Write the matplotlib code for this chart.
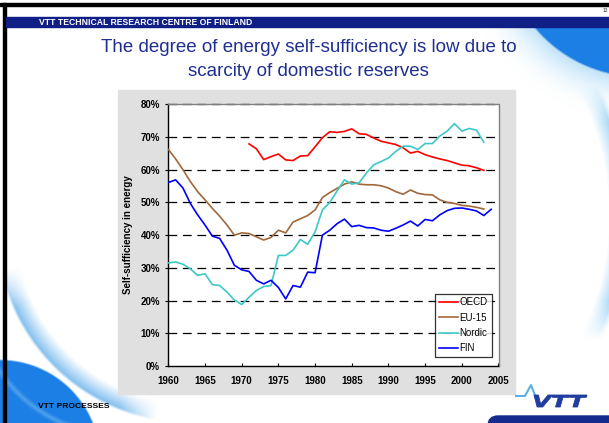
import numpy as np
import matplotlib
matplotlib.use('Agg')
import matplotlib.pyplot as plt
from matplotlib.patches import Rectangle, FancyBboxPatch, PathPatch
from matplotlib.textpath import TextPath
from matplotlib.font_manager import FontProperties
from matplotlib.transforms import Affine2D

plt.rcParams['font.family'] = ['Liberation Sans', 'DejaVu Sans']
plt.rcParams['lines.scale_dashes'] = False

# data (percent)
years_oecd = list(range(1971, 2004))
oecd = [67.9, 66.4, 63.1, 64.0, 64.8, 63.0, 62.8, 64.2, 64.3, 67.0,
        69.8, 71.6, 71.4, 71.7, 72.5, 71.0, 70.8, 69.7, 68.7, 68.2,
        67.7, 66.7, 65.1, 65.6, 64.6, 63.9, 63.3, 62.8, 62.1, 61.4,
        61.2, 60.6, 59.8]

years_eu = list(range(1960, 2004))
eu15 = [66.2, 63.3, 60.0, 56.4, 53.3, 50.8, 48.2, 45.8, 43.1, 40.0,
        40.7, 40.5, 39.5, 38.5, 39.3, 41.5, 40.7, 44.0, 45.0, 46.0,
        47.7, 51.5, 53.0, 54.3, 55.6, 56.3, 55.6, 55.4, 55.4, 55.1,
        54.4, 53.3, 52.5, 53.8, 52.8, 52.4, 52.3, 50.8, 50.0, 49.7,
        49.1, 48.9, 48.5, 48.0]

years_nordic = list(range(1960, 2004))
nordic = [31.5, 31.8, 31.1, 29.7, 27.7, 28.2, 24.9, 24.6, 22.6, 20.2,
          18.8, 21.0, 23.1, 24.3, 24.6, 33.8, 33.8, 35.4, 38.7, 37.2,
          41.0, 47.7, 50.0, 53.5, 56.9, 55.6, 56.0, 59.0, 61.5, 62.5,
          63.6, 65.6, 67.2, 67.2, 66.2, 68.0, 68.0, 70.3, 71.8, 74.1,
          71.8, 72.6, 72.1, 68.4]

years_fin = list(range(1960, 2005))
fin = [56.1, 56.9, 54.4, 49.7, 46.2, 43.1, 39.7, 39.0, 35.4, 30.8,
       29.4, 28.9, 26.2, 25.1, 26.2, 24.0, 20.5, 24.6, 24.1, 28.7,
       28.5, 40.0, 41.5, 43.5, 44.9, 42.6, 43.0, 42.3, 42.2, 41.5,
       41.2, 42.1, 43.1, 44.3, 42.8, 44.8, 44.4, 46.2, 47.5, 48.2,
       48.3, 47.9, 47.4, 46.0, 47.9]

series = [('OECD', years_oecd, oecd, '#ff0000'),
          ('EU-15', years_eu, eu15, '#a0683a'),
          ('Nordic', years_nordic, nordic, '#3cc8c8'),
          ('FIN', years_fin, fin, '#0000ff')]

y_ticks = list(range(0, 81, 10))
x_ticks = list(range(1960, 2006, 5))

W, H = 609, 423
fig = plt.figure(figsize=(W / 100, H / 100), dpi=100)

# slide background with the blue swooshes
yy, xx = np.mgrid[0:H, 0:W] + 0.5
img = np.ones((H, W, 3))
below_bar = (yy > 27).astype(float)


def blend(a, col):
    global img
    a = (np.clip(a, 0, 1) * below_bar)[..., None]
    img = img * (1 - a) + np.array(col) * a


def band(cx, cy, r, inner, outer):
    d = np.hypot(xx - cx, yy - cy)
    return np.where(d < r, 1 - (r - d) / inner, 1 - (d - r) / outer).clip(0, 1), d


light = (0.55, 0.80, 0.96)
blue = (0.11, 0.50, 0.90)

a, d = band(640, -60, 137, 1e-3, 45)
blend(np.where(d > 137, a ** 2 * 0.55, 0), light)
blend((137 - d) / 2 + 0.5, blue)

a, d = band(340, 215, 285, 16, 6)
win = np.clip((yy - 85) / 40, 0, 1) * np.clip((340 - yy) / 40, 0, 1) * (xx > 450)
blend(a * win * 0.8, light)

a, d = band(190, 230, 191, 18, 3)
th = np.degrees(np.arctan2(yy - 230, xx - 190))
win = np.clip((th - 100) / 12, 0, 1) * np.clip((168 - th) / 12, 0, 1)
blend(a * win * 0.85, (0.45, 0.72, 0.93))

d = np.hypot(xx, yy - 460)
blend((100 - d) / 2 + 0.5, blue)
a, d2 = band(120, 290, 145, 4, 4)
blend(a * (d < 100) * 0.4, (0.6, 0.82, 0.97))

bg = fig.add_axes([0, 0, 1, 1])
bg.imshow(img, extent=(0, W, H, 0), aspect='auto', zorder=0)
bg.set_xlim(0, W)
bg.set_ylim(H, 0)
bg.axis('off')

bg.add_patch(Rectangle((0, 3.3), W, 2.4, color='black', zorder=2))
bg.add_patch(Rectangle((3.3, 3.3), 2.7, H, color='black', zorder=2))
bg.add_patch(Rectangle((6, 17.3), W, 10, color='#0f1f85', zorder=2))
bg.add_patch(Rectangle((118.3, 90), 396.7, 304, color='#e0e0e0', zorder=2))
bg.add_patch(FancyBboxPatch((488, 416), 140, 20, boxstyle='round,pad=0,rounding_size=10',
                            color='#142a8c', zorder=2))

# VTT logo
bg.plot([516, 525, 531, 536], [396, 396, 385, 398], color='#5ab0e8', lw=1.5, zorder=3)
tp = TextPath((0, 0), 'VTT', size=10,
              prop=FontProperties(family='DejaVu Sans', weight='heavy', style='oblique'))
ext = tp.get_extents()
tr = Affine2D().translate(-ext.x0, -ext.y0).scale(53 / ext.width, -12 / ext.height).translate(534, 407)
bg.add_patch(PathPatch(tr.transform_path(tp), facecolor='#1f3c9e', edgecolor='#1f3c9e',
                       lw=0.6, zorder=3))

fig.text(39 / W, 1 - 22.5 / H, 'VTT TECHNICAL RESEARCH CENTRE OF FINLAND', color='white',
         fontsize=6.2, fontweight='bold', ha='left', va='center')
fig.text(605 / W, 1 - 10 / H, '13', fontsize=3.5, color='#333333', ha='center', va='center')
fig.text(37.7 / W, 1 - 406 / H, 'VTT PROCESSES', fontsize=6.1, fontweight='bold',
         ha='left', va='center')
fig.text(308.5 / W, 1 - 48 / H, 'The degree of energy self-sufficiency is low due to',
         fontsize=13.5, color='#1f2f8f', ha='center', va='center')
fig.text(308.5 / W, 1 - 72 / H, 'scarcity of domestic reserves',
         fontsize=13.5, color='#1f2f8f', ha='center', va='center')

# chart
ax = fig.add_axes([168.3 / W, 1 - 366 / H, (498.5 - 168.3) / W, (366 - 104.3) / H])
ax.set_facecolor('white')
for v in y_ticks[1:]:
    ax.axhline(v, color='black', lw=0.9, dashes=(6.3, 4.1), zorder=1, clip_on=False)
for name, xs, ys, c in series:
    ax.plot(xs, ys, color=c, lw=1.2, label=name, zorder=3)

ax.set_xlim(1960, 2005)
ax.set_ylim(0, 80)
ax.set_xticks(x_ticks)
ax.set_xticklabels([str(x) for x in x_ticks], fontsize=7, fontweight='bold')
ax.set_yticks(y_ticks)
ax.set_yticklabels(['%d%%' % v for v in y_ticks], fontsize=7, fontweight='bold')
ax.tick_params(axis='y', direction='out', length=2.2, width=0.8, pad=3.8)
ax.tick_params(axis='x', direction='in', length=2.2, width=0.8, pad=7)
for s in ['left', 'bottom']:
    ax.spines[s].set_color('black')
    ax.spines[s].set_linewidth(1)
for s in ['top', 'right']:
    ax.spines[s].set_color('#808080')
    ax.spines[s].set_linewidth(1)

fig.text(128 / W, 1 - 235 / H, 'Self-sufficiency in energy', rotation=90, fontsize=7,
         fontweight='bold', ha='center', va='center')

leg = ax.legend(loc='lower right', bbox_to_anchor=(0.979, 0.033), borderaxespad=0,
                fontsize=7, frameon=True, fancybox=False, edgecolor='black',
                handlelength=2.0, handletextpad=0.15, labelspacing=0.55, borderpad=0.4)
leg.get_frame().set_linewidth(0.9)
leg.set_zorder(5)

fig.savefig('out.png', dpi=100)
